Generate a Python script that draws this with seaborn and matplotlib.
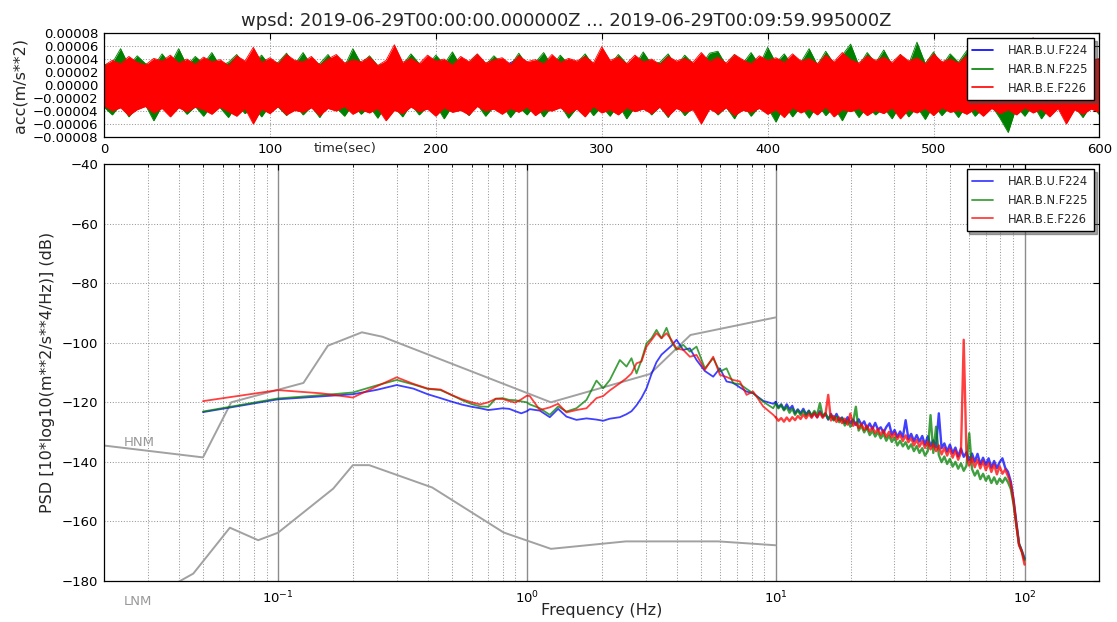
import numpy as np
import pandas as pd
import matplotlib
matplotlib.use("Agg")
import matplotlib.pyplot as plt
from matplotlib.lines import Line2D
from matplotlib.ticker import FuncFormatter, MultipleLocator
import seaborn as sns

# ---------------------------------------------------------------- data
CHANNELS = ["HAR.B.U.F224", "HAR.B.N.F225", "HAR.B.E.F226"]
CHANNEL_COLORS = ["#0000ff", "#008000", "#ff0000"]
TITLE = "wpsd: 2019-06-29T00:00:00.000000Z ... 2019-06-29T00:09:59.995000Z"
DURATION_S = 600

# waveform peak envelopes over the 600 s window, in micro m/s**2
# (upper = positive peaks, lower = magnitude of negative peaks)
U_UPPER = [27, 30, 28, 32, 26, 31, 29, 33, 27, 30, 28, 34, 29, 31, 27, 32, 30, 28, 33, 29,
           31, 27, 32, 30, 28, 41, 29, 31, 33, 28, 30, 32, 27, 31, 29, 34, 30, 28, 32, 29,
           31, 33, 28, 30, 32, 29, 34, 31, 28, 33, 30, 32, 29, 35, 31, 28, 33, 30, 32, 29, 31]
U_LOWER = [30, 28, 33, 29, 32, 35, 30, 28, 34, 31, 29, 36, 32, 30, 28, 33, 31, 35, 29, 32,
           30, 34, 28, 31, 33, 29, 36, 30, 32, 28, 34, 31, 29, 33, 30, 37, 32, 29, 31, 35,
           30, 33, 28, 32, 34, 30, 31, 36, 29, 33, 32, 30, 35, 31, 28, 34, 32, 30, 33, 41, 31]
N_UPPER = [31, 34, 56, 30, 45, 33, 29, 48, 32, 56, 30, 44,
           33, 50, 29, 35, 47, 31, 34, 46, 30, 35, 49, 32,
           50, 30, 33, 47, 31, 29, 56, 33, 45, 30, 34, 44,
           31, 48, 33, 30, 46, 32, 51, 29, 35, 47, 31, 45,
           33, 30, 49, 31, 35, 50, 29, 46, 32, 34, 48, 30,
           54, 31, 47, 33, 30, 51, 32, 35, 48, 29, 46, 33,
           31, 49, 52, 30, 47, 33, 50, 31, 58, 34, 48, 30,
           35, 56, 31, 52, 33, 46, 63, 30, 50, 34, 54, 31,
           47, 32, 66, 33, 51, 30, 48, 35, 53, 31, 46, 49,
           32, 50, 34, 48, 30, 52, 33, 47, 31, 55, 34, 46, 32]
N_LOWER = [34, 46, 30, 49, 33, 31, 55, 32, 47, 30, 45, 33,
           48, 31, 35, 50, 30, 44, 33, 49, 31, 34, 47, 30,
           46, 33, 50, 31, 35, 48, 30, 45, 33, 51, 31, 34,
           49, 30, 46, 33, 31, 52, 32, 35, 47, 30, 48, 33,
           31, 50, 34, 46, 30, 49, 33, 31, 51, 35, 30, 47,
           33, 48, 30, 52, 34, 31, 46, 33, 50, 30, 47, 34,
           50, 31, 46, 34, 52, 30, 48, 33, 35, 57, 31, 49,
           33, 51, 30, 47, 34, 55, 31, 50, 33, 46, 35, 52,
           30, 49, 34, 53, 31, 47, 33, 50, 30, 48, 35, 32,
           51, 73, 33, 48, 30, 52, 34, 31, 49, 33, 50, 31, 46]
E_UPPER = [30, 38, 33, 44, 35, 31, 41, 37, 46, 34, 40, 32,
           43, 36, 39, 30, 45, 37, 58, 35, 42, 33, 47, 38,
           36, 44, 31, 40, 47, 34, 39, 36, 43, 30, 38, 62,
           35, 41, 33, 46, 37, 40, 31, 44, 36, 48, 34, 39,
           42, 32, 45, 36, 39, 33, 47, 35, 41, 37, 44, 34,
           59, 38, 43, 33, 46, 36, 40, 32, 44, 37, 41, 35,
           50, 36, 43, 34, 47, 39, 33, 45, 38, 42, 35, 48,
           37, 41, 33, 46, 36, 50, 39, 34, 45, 38, 43, 35,
           47, 37, 42, 33, 48, 36, 40, 34, 45, 38, 41, 36,
           44, 37, 48, 35, 73, 39, 46, 36, 42, 34, 45, 38, 41]
E_LOWER = [32, 40, 35, 47, 38, 33, 43, 36, 49, 35, 41, 34,
           38, 45, 34, 41, 48, 36, 60, 37, 44, 33, 46, 39,
           42, 35, 47, 36, 40, 33, 45, 38, 43, 36, 55, 39,
           44, 34, 41, 37, 48, 35, 42, 39, 46, 33, 40, 37,
           45, 36, 42, 34, 47, 38, 40, 35, 44, 37, 49, 33,
           43, 38, 46, 35, 41, 37, 44, 34, 48, 36, 42, 38,
           60, 37, 44, 35, 47, 39, 42, 36, 45, 38, 50, 35,
           43, 37, 46, 34, 49, 38, 41, 36, 47, 39, 44, 35,
           52, 38, 43, 36, 47, 35, 42, 39, 45, 37, 48, 36,
           44, 38, 46, 35, 43, 37, 49, 36, 60, 38, 45, 37, 42]

# PSD frequency axis (Hz): coarse low band, mid band, dense 10-100 Hz band
FREQ_LOW = [0.05, 0.10, 0.15, 0.20, 0.25, 0.30, 0.35, 0.40, 0.45, 0.50,
            0.55, 0.60, 0.65, 0.70, 0.75, 0.80, 0.85, 0.90, 0.95, 1.00]
FREQ_MID = [1.028, 1.128, 1.237, 1.336, 1.443, 1.583, 1.737, 1.905, 2.027, 2.156,
            2.365, 2.515, 2.634, 2.760, 2.890, 3.027, 3.170, 3.320, 3.477, 3.642,
            3.814, 3.995, 4.250, 4.520, 4.808, 5.194, 5.610, 5.968, 6.347, 6.751,
            7.180, 7.637, 8.123, 8.910, 9.775]
FREQ_HIGH = np.geomspace(10.0, 100.0, 91)

# PSD values, dB re (m/s**2)**2/Hz
PSD_U = [
    # 0.05 - 1 Hz
    -123.3, -119.0, -118.0, -117.3, -115.8, -114.2, -115.4, -117.3, -118.6, -119.8,
    -120.8, -121.5, -122.0, -122.6, -122.3, -122.0, -122.2, -123.0, -123.7, -123.0,
    # 1 - 10 Hz
    -122.3, -122.8, -125.0, -122.2, -124.8, -125.9, -125.4, -125.8, -126.2, -125.5,
    -125.0, -124.0, -123.0, -121.0, -118.5, -115.3, -110.5, -106.5, -104.0, -102.5,
    -101.0, -99.0, -102.4, -101.9, -105.8, -109.5, -111.4, -108.6, -113.0, -113.5,
    -115.0, -116.4, -117.0, -119.5, -120.5,
    # 10 - 100 Hz
    -119.9, -121.7, -120.7, -122.4, -120.7, -122.4, -121.2, -123.7, -122.4, -123.7,
    -122.2, -124.1, -122.8, -124.8, -123.4, -125.0, -123.0, -124.8, -123.8, -125.8,
    -123.9, -125.8, -123.9, -126.0, -125.1, -127.0, -125.0, -126.9, -125.8, -127.6,
    -125.7, -127.6, -126.4, -128.9, -127.1, -128.9, -126.9, -129.2, -128.4, -130.2,
    -128.3, -127.0, -130.8, -129.3, -131.6, -129.8, -131.6, -126.0, -132.3, -130.6,
    -133.0, -131.0, -133.2, -131.3, -134.2, -131.4, -134.6, -132.8, -135.0, -123.7,
    -135.4, -133.8, -136.5, -134.2, -137.0, -135.2, -138.2, -135.5, -138.3, -136.8,
    -139.5, -137.2, -139.9, -137.3, -140.8, -138.6, -141.0, -138.8, -141.9, -139.7,
    -142.1, -140.1, -138.8, -142.0, -143.3, -146.5, -152.5, -160.0, -167.5, -169.8,
    -172.5]
PSD_N = [
    -123.1, -118.7, -117.6, -116.7, -114.3, -112.5, -114.0, -115.5, -115.9, -117.6,
    -119.3, -120.6, -121.4, -121.5, -118.8, -118.6, -119.2, -119.3, -119.7, -120.0,
    -120.7, -122.0, -124.2, -121.4, -123.1, -122.0, -119.2, -112.7, -115.3, -112.5,
    -105.8, -108.0, -105.2, -110.3, -105.8, -100.2, -98.5, -95.7, -98.5, -95.0,
    -99.6, -102.4, -100.7, -103.0, -101.3, -108.6, -105.2, -109.7, -108.6, -113.6,
    -113.9, -115.5, -117.0, -119.8, -122.0,
    -120.4, -122.0, -120.9, -122.7, -121.5, -123.5, -122.1, -124.2, -122.6, -124.3,
    -122.8, -124.5, -123.0, -124.4, -122.9, -124.3, -120.3, -124.6, -123.7, -125.6,
    -124.4, -126.1, -124.8, -126.7, -125.3, -127.8, -126.0, -128.2, -126.6, -121.5,
    -129.5, -127.9, -130.1, -128.6, -131.0, -129.6, -131.5, -130.0, -132.1, -130.6,
    -132.9, -131.2, -133.3, -131.8, -134.5, -132.9, -134.8, -133.4, -135.6, -134.1,
    -136.4, -134.7, -137.0, -135.4, -137.9, -136.4, -124.3, -137.0, -128.2, -137.7,
    -140.1, -138.2, -140.7, -139.0, -141.6, -140.0, -142.3, -140.5, -143.0, -141.3,
    -130.4, -142.4, -144.6, -142.9, -145.8, -144.0, -146.3, -144.7, -147.1, -145.2,
    -147.4, -145.6, -147.0, -145.3, -146.8, -149.0, -154.0, -161.0, -167.5, -170.0,
    -173.0]
PSD_E = [
    -119.6, -115.9, -117.0, -118.4, -114.6, -111.6, -113.8, -115.4, -115.7, -117.6,
    -119.0, -120.0, -120.7, -120.0, -118.8, -118.9, -119.6, -120.1, -119.0, -117.8,
    -117.9, -122.6, -121.7, -120.5, -123.4, -122.6, -122.0, -118.6, -117.9, -116.0,
    -113.6, -111.9, -110.3, -106.9, -106.3, -101.3, -99.1, -96.8, -98.5, -96.8,
    -99.1, -101.9, -102.4, -104.7, -104.1, -109.1, -104.7, -110.8, -111.5, -112.5,
    -113.0, -117.5, -116.4, -121.4, -124.2,
    -125.0, -126.2, -125.3, -126.5, -125.1, -126.3, -125.0, -126.0, -124.6, -125.6,
    -124.1, -125.4, -123.9, -125.2, -123.7, -125.1, -123.5, -125.2, -124.0, -117.5,
    -126.1, -124.6, -126.6, -125.1, -127.0, -125.5, -127.5, -123.8, -127.9, -126.8,
    -128.7, -127.2, -129.3, -127.8, -129.8, -128.4, -130.3, -128.9, -130.9, -129.4,
    -131.6, -129.9, -131.9, -130.3, -132.4, -130.9, -133.0, -131.1, -133.4, -132.0,
    -134.5, -132.6, -134.9, -133.0, -135.3, -133.2, -135.8, -134.0, -136.4, -134.5,
    -137.5, -135.3, -137.9, -135.6, -138.6, -136.2, -139.3, -136.9, -99.0, -137.8,
    -141.3, -138.6, -141.8, -139.3, -142.2, -139.8, -142.8, -140.4, -143.4, -140.9,
    -144.2, -141.5, -144.0, -142.6, -144.8, -147.2, -153.0, -161.0, -168.0, -170.2,
    -174.5]

# Peterson (1993) noise models, acceleration dB at the model corner frequencies
NHNM_FREQ = [10.0, 4.545, 3.125, 1.25, 0.2632, 0.2174, 0.1587, 0.1266, 0.0649, 0.05, 0.00282]
NHNM_DB = [-91.5, -97.4, -110.5, -120.0, -98.0, -96.5, -101.0, -113.5, -120.0, -138.5, -126.0]
NLNM_FREQ = [10.0, 5.882, 2.5, 1.25, 0.8065, 0.4167, 0.2326, 0.2, 0.1667, 0.1,
             0.0833, 0.0641, 0.0457, 0.0316, 0.0222, 0.0143]
NLNM_DB = [-168.0, -166.7, -166.7, -169.2, -163.7, -148.6, -141.1, -141.1, -149.0, -163.8,
           -166.3, -162.1, -177.5, -185.0, -187.5, -187.5]

# ---------------------------------------------------------------- style
sns.set_style("white")
plt.rcParams.update({
    "font.family": ["DejaVu Sans"],
    "axes.edgecolor": "black",
    "axes.linewidth": 0.9,
    "xtick.direction": "in",
    "ytick.direction": "in",
    "xtick.top": True,
    "ytick.right": True,
    "xtick.color": "black",
    "ytick.color": "black",
    "xtick.major.size": 4,
    "ytick.major.size": 4,
    "xtick.minor.size": 2,
    "ytick.minor.size": 2,
    "axes.unicode_minus": True,
})

fig = plt.figure(figsize=(11.17, 6.22), dpi=100)
ax1 = fig.add_axes([0.0931, 0.7797, 0.8912, 0.1672])
ax2 = fig.add_axes([0.0931, 0.0659, 0.8912, 0.6704])

GRID = dict(color="0.6", linestyle=":", linewidth=0.75)
LEGEND_KW = dict(loc="upper right", fontsize=8.3, frameon=True, fancybox=False,
                 shadow=True, edgecolor="black", framealpha=1, handlelength=1.8,
                 handletextpad=1.3, borderpad=0.5, labelspacing=0.5, borderaxespad=0.45)

# ---------------------------------------------------------------- waveforms
envelopes = [(U_UPPER, U_LOWER), (N_UPPER, N_LOWER), (E_UPPER, E_LOWER)]
for name, color, (up, lo) in zip(CHANNELS, CHANNEL_COLORS, envelopes):
    t = np.linspace(0, DURATION_S, len(up))
    upper = np.asarray(up, float) * 1e-6
    lower = -np.asarray(lo, float) * 1e-6
    sns.lineplot(x=t, y=upper, color=color, lw=0.6, ax=ax1, zorder=2)
    sns.lineplot(x=t, y=lower, color=color, lw=0.6, ax=ax1, zorder=2)
    ax1.fill_between(t, lower, upper, color=color, lw=0, zorder=2)

ax1.set_xlim(0, DURATION_S)
ax1.set_ylim(-8e-5, 8e-5)
ax1.xaxis.set_major_locator(MultipleLocator(100))
ax1.yaxis.set_major_locator(MultipleLocator(2e-5))


def fmt_acc(v, _pos):
    s = f"{v:.5f}"
    if s == "-0.00000":
        s = "0.00000"
    return s.replace("-", "\u2212")


ax1.yaxis.set_major_formatter(FuncFormatter(fmt_acc))
ax1.grid(True, **GRID)
ax1.tick_params(labelsize=9.5, pad=4)
ax1.set_xlabel("time(sec)", fontsize=9.5)
ax1.xaxis.set_label_coords(0.242, -0.045)
ax1.set_ylabel("acc(m/s**2)", fontsize=11.5)
ax1.yaxis.set_label_coords(-0.077, 0.5)
wave_handles = [Line2D([], [], color=c, lw=1.2) for c in CHANNEL_COLORS]
ax1.legend(wave_handles, CHANNELS, **LEGEND_KW)

# ---------------------------------------------------------------- PSD
ax2.set_xscale("log")

sns.lineplot(x=NHNM_FREQ, y=NHNM_DB, color="0.63", lw=1.4, sort=False,
             estimator=None, ax=ax2, zorder=2)
sns.lineplot(x=NLNM_FREQ, y=NLNM_DB, color="0.63", lw=1.4, sort=False,
             estimator=None, ax=ax2, zorder=2)

freq = np.concatenate([FREQ_LOW, FREQ_MID, FREQ_HIGH])
n_below = len(FREQ_LOW) + len(FREQ_MID)
psd = pd.DataFrame({
    "freq": np.tile(freq, 3),
    "psd": np.concatenate([PSD_U, PSD_N, PSD_E]),
    "channel": np.repeat(CHANNELS, len(freq)),
    "idx": np.tile(np.arange(len(freq)), 3),
})
# the smoother part below 10 Hz and the dense part above it
low_part = psd[psd["idx"] <= n_below]
high_part = psd[psd["idx"] >= n_below]
for part, width in ((low_part, 1.3), (high_part, 1.7)):
    sns.lineplot(data=part, x="freq", y="psd", hue="channel", hue_order=CHANNELS,
                 palette=CHANNEL_COLORS, estimator=None, sort=False, lw=width,
                 alpha=0.75, legend=False, ax=ax2, zorder=3)

ax2.set_xlim(0.02, 200)
ax2.set_ylim(-180, -40)
ax2.yaxis.set_major_locator(MultipleLocator(20))
ax2.grid(True, which="major", axis="x", color="0.55", linestyle="-", linewidth=1.0)
ax2.grid(True, which="minor", axis="x", **GRID)
ax2.grid(True, which="major", axis="y", **GRID)
ax2.tick_params(labelsize=9.5, pad=4)
ax2.tick_params(axis="x", which="major", pad=6)

ax2.text(0.024, -133.6, "HNM", color="0.6", fontsize=9.5, ha="left", va="center")
ax2.text(0.024, -186.8, "LNM", color="0.6", fontsize=9.5, ha="left", va="center",
         clip_on=False)

ax2.set_xlabel("Frequency (Hz)", fontsize=11.5)
ax2.xaxis.set_label_coords(0.5, -0.053)
ax2.set_ylabel("PSD [10*log10(m**2/s**4/Hz)] (dB)", fontsize=11.5)
ax2.yaxis.set_label_coords(-0.049, 0.5)

psd_handles = [Line2D([], [], color=c, lw=1.3, alpha=0.75) for c in CHANNEL_COLORS]
ax2.legend(psd_handles, CHANNELS, **LEGEND_KW)

fig.text(0.507, 0.966, TITLE, ha="center", va="center", fontsize=13)

fig.savefig("out.png", dpi=100)
